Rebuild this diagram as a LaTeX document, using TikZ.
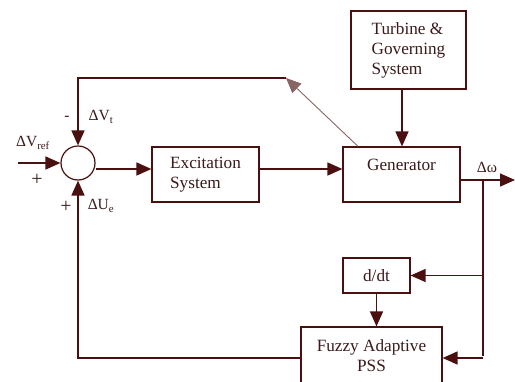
\documentclass[tikz,border=0pt]{standalone}
\usepackage{fontspec}
\setmainfont{Liberation Serif}
\usepackage{tikz}
\usetikzlibrary{arrows.meta,positioning,calc}
\definecolor{wire}{HTML}{4A1010}
\definecolor{ink}{HTML}{3A1A1A}
\tikzset{
  >={Triangle[length=15pt,width=13pt]},
  % blocks
  blk/.style={rectangle,draw=wire,line width=1.2pt,fill=white,inner sep=0pt,
              align=left,text=ink,font=\fontsize{17.2}{20}\selectfont},
  sumnode/.style={circle,draw=wire,line width=1.2pt,fill=white,inner sep=0pt,
              minimum size=34pt},
  sig/.style={->,draw=wire,line width=1.5pt},
  wireln/.style={draw=wire,line width=1.5pt},
  meas/.style={->,draw=wire!65,line width=0.9pt},
  lbl/.style={text=ink,inner sep=0pt,font=\fontsize{15.5}{18}\selectfont},
  sgn/.style={text=ink,inner sep=0pt,font=\fontsize{20}{22}\selectfont},
}

\begin{document}
\begin{tikzpicture}[x=1pt,y=-1pt]
  \useasboundingbox (0,0) rectangle (515,381);
  \node[sumnode] (sum) at (78,163) {};
  \node[blk,minimum width=107pt,minimum height=55pt] (exc) at (205.5,174.5) {Excitation\\System};
  \node[blk,minimum width=117pt,minimum height=55pt] (gen) at (401.5,174.5) {Generator\\\mbox{}};
  \node[blk,minimum width=115pt,minimum height=78pt] (tur) at (408.5,50) {Turbine \&\\Governing\\System};
  \node[blk,minimum width=67pt,minimum height=35pt] (ddt) at (376.5,275.5) {d/dt};
  \node[blk,minimum width=141pt,minimum height=57pt,align=center] (pss) at (371.5,355.5) {Fuzzy Adaptive\\PSS};
  \coordinate (vin) at (18,163);
  \coordinate (fbk) at (286,78);
  \coordinate (dw) at (483,180);
  \coordinate (wout) at (515,180);
  % signals
  \draw[sig] (vin) -- (sum);
  \draw[sig] (sum.east |- 0,169) -- (exc.west |- 0,169);
  \draw[sig] (exc.east |- 0,169) -- (gen.west |- 0,169);
  \draw[sig] (tur.south -| 402,0) -- (gen.north -| 402,0);
  \draw[sig] (gen.east |- dw) -- (wout);
  \draw[meas] (gen.north -| 358,0) -- (fbk);
  \draw[sig] (fbk) -- (fbk -| sum) -- (sum);
  \draw[wireln] (dw) -- (dw |- pss.east);
  \draw[sig] (dw |- ddt.east) -- (ddt);
  \draw[sig] (dw |- 0,358) -- (pss.east |- 0,358);
  \draw[sig] (ddt.south) -- (pss.north -| ddt.south);
  \draw[sig] (pss.west |- 0,358) -- (sum |- 0,358) -- (sum);
  % labels
  \node[lbl] (mns) at (67,118) {-};
  \node[lbl] (vt) at (101,117) {ΔV\textsubscript{t}};
  \node[lbl] (vref) at (33,143) {ΔV\textsubscript{ref}};
  \node[sgn] (pl1) at (37,180) {+};
  \node[sgn] (pl2) at (66,207) {+};
  \node[lbl] (ue) at (101,206) {ΔU\textsubscript{e}};
  \node[lbl] (dom) at (487,167) {Δω};
\end{tikzpicture}
\end{document}
